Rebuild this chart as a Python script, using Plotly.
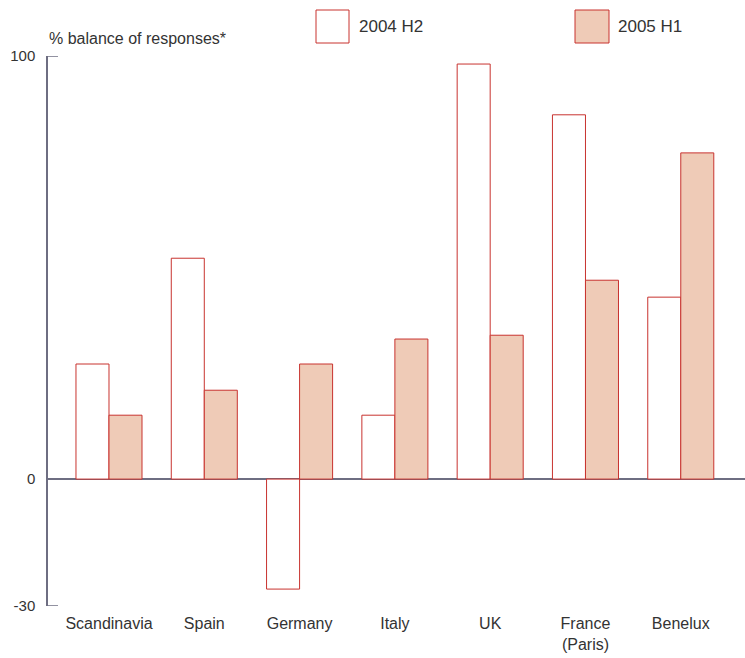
import plotly.graph_objects as go

categories = ["Scandinavia", "Spain", "Germany", "Italy", "UK", "France<br>(Paris)", "Benelux"]
h2_2004 = [27.2, 52.2, -26.0, 15.1, 98.1, 86.1, 43.0]
h1_2005 = [15.1, 21.0, 27.2, 33.1, 34.0, 47.0, 77.1]
series_names = ["2004 H2", "2005 H1"]
y_ticks = [-30, 0, 100]

W, H = 745, 658
ML, MR, MT, MB = 48, 0, 56, 52
PW, PH = W - ML - MR, H - MT - MB

RED = "#c8332f"
FILL = "#efcbb7"
AXIS = "#6e6e82"
TXT = "#333333"
FONT = "Liberation Sans, Arial, Helvetica, sans-serif"

def px_x(px):
    return (px - ML) / PW

def px_y(py):
    return (H - MB - py) / PH

fig = go.Figure()
fig.add_trace(go.Bar(x=categories, y=h2_2004, name=series_names[0],
                     marker=dict(color="white", line=dict(color=RED, width=1))))
fig.add_trace(go.Bar(x=categories, y=h1_2005, name=series_names[1],
                     marker=dict(color=FILL, line=dict(color=RED, width=1))))

shapes = []
annotations = []
# legend swatches
for (x0, x1, tx, fill, name) in [(316, 349, 357, "white", series_names[0]),
                                  (575, 609, 616, FILL, series_names[1])]:
    shapes.append(dict(type="rect", xref="paper", yref="paper",
                       x0=px_x(x0), x1=px_x(x1), y0=px_y(43), y1=px_y(10),
                       fillcolor=fill, line=dict(color=RED, width=1)))
    annotations.append(dict(xref="paper", yref="paper", x=px_x(tx), y=px_y(26),
                            text=name, showarrow=False, xanchor="left", yanchor="middle",
                            font=dict(size=17, color=TXT, family=FONT)))
annotations.append(dict(xref="paper", yref="paper", x=-0.002, y=px_y(38),
                        text="% balance of responses*", showarrow=False,
                        xanchor="left", yanchor="middle",
                        font=dict(size=16, color=TXT, family=FONT)))
# inward tick marks at the axis ends
for v in (y_ticks[0], y_ticks[-1]):
    shapes.append(dict(type="line", xref="paper", yref="y", x0=0, x1=px_x(58),
                       y0=v, y1=v, line=dict(color=AXIS, width=1.5)))

fig.update_layout(
    width=W, height=H,
    margin=dict(l=ML, r=MR, t=MT, b=MB, pad=0),
    paper_bgcolor="white", plot_bgcolor="white",
    barmode="group", bargap=0.307, bargroupgap=0,
    showlegend=False,
    font=dict(family=FONT, size=15, color=TXT),
    shapes=shapes, annotations=annotations,
)
fig.update_xaxes(range=[-0.64, 6.674], showgrid=False, showline=False, ticks="",
                 tickfont=dict(size=16, color=TXT), zeroline=False, ticklabelstandoff=6)
fig.update_yaxes(range=[-30, 100], tickvals=y_ticks, ticktext=[str(v) for v in y_ticks],
                 showgrid=False, showline=True, linecolor=AXIS, linewidth=1.5,
                 ticks="", zeroline=True, zerolinecolor=AXIS, zerolinewidth=1.5,
                 tickfont=dict(size=15, color=TXT), ticklabelstandoff=8)

fig.write_html("out.html")
